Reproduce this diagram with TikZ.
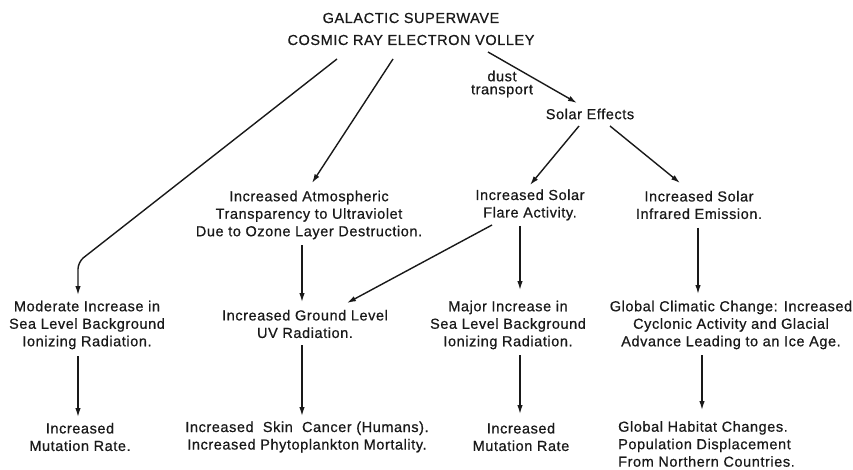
\documentclass[tikz,border=0pt]{standalone}
\usepackage{fontspec}
\setmainfont{Liberation Sans}[LetterSpace=4,FakeBold=0.6]
\usetikzlibrary{calc,arrows.meta}
\begin{document}
\begin{tikzpicture}[x=1pt,y=-1pt,>={Latex[length=9pt,width=5.5pt]}]
\tikzstyle{txt}=[inner sep=0pt,align=center,font=\fontsize{14.5}{17.5}\selectfont,text=black!90]%
\tikzstyle{link}=[line width=1.4pt,->,draw=black!90]%
\useasboundingbox[fill=white] (0,0) rectangle (853,470);
% source
\node[txt] (top) at (411,29) {GALACTIC SUPERWAVE\\[4.5pt]COSMIC RAY ELECTRON VOLLEY};
\node[txt,font=\fontsize{14.5}{13}\selectfont] (dust) at (502,84) {dust\\transport};
\node[txt] (solar) at (590,114) {Solar Effects};
% second row
\node[txt] (atmo) at (309,215) {Increased Atmospheric\\Transparency to Ultraviolet\\Due to Ozone Layer Destruction.};
\node[txt] (flare) at (530,205) {Increased Solar\\Flare Activity.};
\node[txt] (infra) at (699,205) {Increased Solar\\Infrared Emission.};
% third row
\node[txt] (mod) at (87,325) {Moderate Increase in\\Sea Level Background\\Ionizing Radiation.};
\node[txt] (ground) at (305,324) {Increased Ground Level\\UV Radiation.};
\node[txt] (major) at (508,325) {Major Increase in\\Sea Level Background\\Ionizing Radiation.};
\node[txt] (glob) at (731,325) {Global Climatic Change: Increased\\Cyclonic Activity and Glacial\\Advance Leading to an Ice Age.};
% effects
\node[txt] (mut1) at (80,437) {Increased\\Mutation Rate.};
\node[txt] (skin) at (307,437) {Increased\ \ Skin\ \ Cancer (Humans).\\Increased Phytoplankton Mortality.};
\node[txt] (mut2) at (521,437) {Increased\\Mutation Rate};
\node[txt,align=left,anchor=west] (hab) at (618,444) {Global Habitat Changes.\\Population Displacement\\From Northern Countries.};
% arrows
\draw[link,rounded corners=7pt] ($(top)+(-74,30)$) -- ($(mod)+(-9,-63)$) -- ($(mod)+(-9,-30)$);
\draw[link] ($(top)+(-18,30)$) -- ($(atmo)+(3,-32)$);
\draw[link] ($(top)+(77,23)$) -- ($(solar)+(-13,-11)$);
\draw[link] ($(solar)+(-11,12)$) -- ($(flare)+(0,-20)$);
\draw[link] ($(solar)+(20,12)$) -- ($(infra)+(-19,-22)$);
\draw[link] ($(atmo)+(-7,30)$) -- ($(ground)+(-3,-22)$);
\draw[link] ($(flare)+(-38,20)$) -- ($(ground)+(42,-21)$);
\draw[link] ($(flare)+(-10,21)$) -- ($(major)+(12,-35)$);
\draw[link] ($(infra)+(-1,23)$) -- ($(glob)+(-33,-31)$);
\draw[link] ($(mod)+(-9,31)$) -- ($(mut1)+(-2,-20)$);
\draw[link] ($(ground)+(-3,21)$) -- ($(skin)+(-5,-21)$);
\draw[link] ($(major)+(12,30)$) -- ($(mut2)+(-1,-23)$);
\draw[link] ($(glob)+(-29,30)$) -- ($(hab.west)+(84,-34)$);
\end{tikzpicture}
\end{document}
